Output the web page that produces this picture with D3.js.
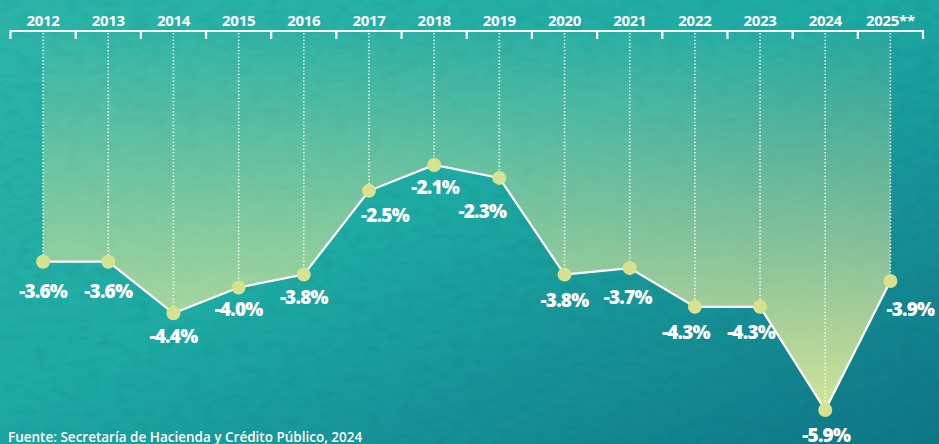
<!DOCTYPE html>
<html>
<head>
<meta charset="utf-8">
<script src="https://cdn.jsdelivr.net/npm/d3@7/dist/d3.min.js"></script>
<style>
  html, body { margin: 0; padding: 0; overflow: hidden; }
  body { width: 939px; height: 444px; }
  svg { display: block; }
</style>
</head>
<body>
<script>
// balance del sector publico, % del PIB
var years = ['2012', '2013', '2014', '2015', '2016', '2017', '2018', '2019', '2020', '2021', '2022', '2023', '2024', '2025**'];
var values = [-3.6, -3.6, -4.4, -4.0, -3.8, -2.5, -2.1, -2.3, -3.8, -3.7, -4.3, -4.3, -5.9, -3.9];
var labels = ['-3.6%', '-3.6%', '-4.4%', '-4.0%', '-3.8%', '-2.5%', '-2.1%', '-2.3%', '-3.8%', '-3.7%', '-4.3%', '-4.3%', '-5.9%', '-3.9%'];
var source = 'Fuente: Secretaría de Hacienda y Crédito Público, 2024';

// label nudges (layout only): [dx, dy] from each point
var nudge = [[0, 30], [0, 30], [0, 23], [0, 22], [0, 23], [16, 25], [1, 22], [-17, 33],
  [0, 26], [-2, 29], [-9, 26], [-9, 26], [1, 25], [20, 28]];

var width = 939, height = 444;
var svg = d3.select(document.body).append('svg').attr('width', width).attr('height', height);
var defs = svg.append('defs');

var bg = defs.append('linearGradient').attr('id', 'bg')
  .attr('x1', 0).attr('y1', 0).attr('x2', 1).attr('y2', 1);
bg.append('stop').attr('offset', '0%').attr('stop-color', '#2db5a8');
bg.append('stop').attr('offset', '45%').attr('stop-color', '#1eaba4');
bg.append('stop').attr('offset', '100%').attr('stop-color', '#0e7587');

var fillGrad = defs.append('linearGradient').attr('id', 'areaFill')
  .attr('gradientUnits', 'userSpaceOnUse')
  .attr('x1', 0).attr('y1', 30).attr('x2', 0).attr('y2', 412);
fillGrad.append('stop').attr('offset', '0%').attr('stop-color', '#d3e49c').attr('stop-opacity', 0.05);
fillGrad.append('stop').attr('offset', '40%').attr('stop-color', '#cfe29c').attr('stop-opacity', 0.45);
fillGrad.append('stop').attr('offset', '100%').attr('stop-color', '#d2e59a').attr('stop-opacity', 1);

// grainy paper texture
var noise = defs.append('filter').attr('id', 'grain').attr('x', 0).attr('y', 0).attr('width', '100%').attr('height', '100%');
noise.append('feTurbulence').attr('type', 'fractalNoise').attr('baseFrequency', '0.06 0.12').attr('numOctaves', 3).attr('seed', 4);
noise.append('feColorMatrix').attr('type', 'matrix')
  .attr('values', '0 0 0 0 0  0 0 0 0 0.1  0 0 0 0 0.1  0 0 0 -1.3 0.75');

svg.append('rect').attr('width', width).attr('height', height).attr('fill', 'url(#bg)');
svg.append('rect').attr('width', width).attr('height', height).attr('filter', 'url(#grain)').attr('opacity', 0.16);

var x = d3.scaleBand().domain(years).range([10.5, 923]);
var y = d3.scaleLinear().domain([-5.9, -2.1]).range([410, 165]);
var cx = function (d, i) { return x(years[i]) + x.bandwidth() / 2; };
var topY = 31;

// area between the axis and the line
var area = d3.area()
  .x(function (d, i) { return cx(d, i); })
  .y0(topY)
  .y1(function (d) { return y(d); });
svg.append('path').datum(values).attr('d', area).attr('fill', 'url(#areaFill)');

// dotted drop lines
svg.selectAll('.drop').data(values).enter().append('line')
  .attr('class', 'drop')
  .attr('x1', cx).attr('x2', cx)
  .attr('y1', topY + 2)
  .attr('y2', function (d) { return y(d) - 5; })
  .attr('stroke', '#ffffff').attr('stroke-width', 1.6)
  .attr('stroke-dasharray', '1.2,2.2');

// top axis bracket
var axis = svg.append('g').attr('transform', 'translate(0,' + topY + ')');
axis.call(d3.axisTop(x).tickSize(0).tickPadding(7));
axis.select('.domain').remove();
axis.selectAll('.tick text')
  .attr('fill', '#ffffff')
  .style('font-family', '"Open Sans", sans-serif')
  .style('font-weight', 700)
  .style('font-size', '15px')
  .style('letter-spacing', '-0.3px')
  .attr('dy', '0.1em');
axis.append('line').attr('x1', x.range()[0]).attr('x2', x.range()[1])
  .attr('stroke', '#ffffff').attr('stroke-width', 2.2);
var bounds = years.map(function (yr) { return x(yr); }).concat([x.range()[1]]);
axis.selectAll('.brk').data(bounds).enter().append('line')
  .attr('class', 'brk')
  .attr('x1', function (d) { return d; }).attr('x2', function (d) { return d; })
  .attr('y1', -1.1).attr('y2', 8)
  .attr('stroke', '#ffffff').attr('stroke-width', 2.2);

// line
var line = d3.line().x(function (d, i) { return cx(d, i); }).y(function (d) { return y(d); });
svg.append('path').datum(values).attr('d', line)
  .attr('fill', 'none').attr('stroke', '#ffffff').attr('stroke-width', 2.2);

// points
svg.selectAll('.pt').data(values).enter().append('circle')
  .attr('class', 'pt')
  .attr('cx', cx).attr('cy', function (d) { return y(d); })
  .attr('r', 7)
  .attr('fill', '#d6e28f');

// value labels
svg.selectAll('.lbl').data(values).enter().append('text')
  .attr('class', 'lbl')
  .attr('x', function (d, i) { return cx(d, i) + nudge[i][0]; })
  .attr('y', function (d, i) { return y(d) + nudge[i][1]; })
  .attr('dy', '0.35em')
  .attr('text-anchor', 'middle')
  .attr('fill', '#ffffff')
  .style('font-family', '"Open Sans", sans-serif')
  .style('font-weight', 800)
  .style('font-size', '19px')
  .style('letter-spacing', '-0.8px')
  .text(function (d, i) { return labels[i]; });

// source
svg.append('text')
  .attr('x', 8).attr('y', 442)
  .attr('fill', '#ffffff')
  .style('font-family', '"Open Sans", sans-serif')
  .style('font-weight', 600)
  .style('font-size', '13.5px')
  .style('letter-spacing', '0px')
  .text(source);
</script>
</body>
</html>
